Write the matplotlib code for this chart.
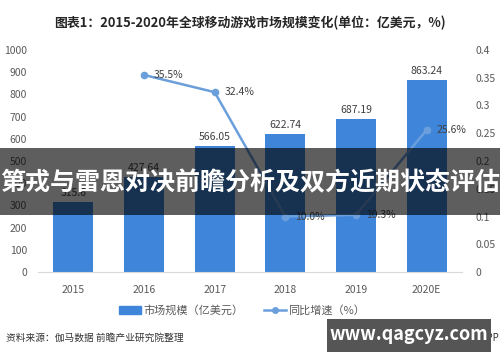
import matplotlib
matplotlib.use("Agg")
import matplotlib.pyplot as plt
from matplotlib.patches import Rectangle
from matplotlib.lines import Line2D
from matplotlib.ticker import FuncFormatter

plt.rcParams['font.family'] = ['Noto Sans CJK SC', 'DejaVu Sans']

years = ["2015", "2016", "2017", "2018", "2019", "2020E"]
market = [315.6, 427.64, 566.05, 622.74, 687.19, 863.24]
growth_years = ["2016", "2017", "2018", "2019", "2020E"]
growth = [0.355, 0.324, 0.100, 0.103, 0.256]

title = "图表1：2015-2020年全球移动游戏市场规模变化(单位：亿美元，%)"
banner = "第戎与雷恩对决前瞻分析及双方近期状态评估"
source = "资料来源：伽马数据 前瞻产业研究院整理"

BAR = "#3f86da"
LINE = "#6a9fdc"
GREY = "#595959"

fig = plt.figure(figsize=(5, 3.62), dpi=100)
ax = fig.add_axes([0.076, 0.2486, 0.848, 0.6133])
x = list(range(len(years)))
ax.bar(x, market, width=0.57, color=BAR, zorder=2)
for xi, v in zip(x, market):
    ax.text(xi, v + 18, f"{v:.2f}" if v != 315.6 else "315.6", ha="center", va="bottom",
            fontsize=7.5, color="#404040")
ax.set_xlim(-0.5, len(years) - 0.5)
ax.set_ylim(0, 1000)
ax.set_yticks(range(0, 1001, 100))
ax.set_xticks(x)
ax.set_xticklabels(years)
ax.tick_params(length=0, labelsize=7.5, colors=GREY)
ax.tick_params(axis="y", pad=8)
ax.tick_params(axis="x", pad=9)
for s in ["top", "right", "left"]:
    ax.spines[s].set_visible(False)
ax.spines["bottom"].set_color("#d9d9d9")

ax2 = ax.twinx()
gx = [years.index(g) for g in growth_years]
ax2.plot(gx, growth, color=LINE, lw=1.8, marker="o", ms=4.5, zorder=3)
for xi, g in zip(gx, growth):
    ax2.annotate(f"{g*100:.1f}%", (xi, g), xytext=(7, 0), textcoords="offset points",
                 ha="left", va="center", fontsize=7.5, color="#404040")
ax2.set_ylim(0, 0.4)
ax2.set_yticks([0, 0.05, 0.1, 0.15, 0.2, 0.25, 0.3, 0.35, 0.4])
ax2.yaxis.set_major_formatter(FuncFormatter(lambda v, p: f"{v:g}"))
ax2.tick_params(length=0, labelsize=7.5, colors=GREY, pad=10)
for s in ax2.spines.values():
    s.set_visible(False)

fig.text(0.5, 1 - 23 / 362, title, ha="center", va="center", fontsize=9.3,
         fontweight="bold", color="#262626")

handles = [Rectangle((0, 0), 1, 1, color=BAR),
           Line2D([0], [0], color=LINE, lw=1.8, marker="o", ms=4)]
fig.legend(handles, ["市场规模（亿美元）", "同比增速（%）"], loc="center",
           bbox_to_anchor=(0.484, 0.143), ncol=2, frameon=False, fontsize=8,
           handlelength=2.0, handletextpad=0.2, columnspacing=1.8, labelcolor=GREY)

fig.text(0.012, 0.068, source, ha="left", va="center", fontsize=7, color="#333333")
fig.text(0.998, 0.068, "@前瞻经济学人APP", ha="right", va="center", fontsize=7,
         color="#333333")

# overlay banner
fig.patches.append(Rectangle((0, 1 - 215 / 362), 1, 67 / 362, transform=fig.transFigure,
                             facecolor="black", linewidth=0, alpha=0.63, zorder=10))
fig.text(0.5, 1 - 183 / 362, banner, ha="center", va="center", fontsize=18,
         fontweight="bold", color="white", zorder=11)

# watermark
fig.patches.append(Rectangle((327 / 500, 1 - 352 / 362), 164 / 500, 33 / 362,
                             transform=fig.transFigure, facecolor="#555555",
                             linewidth=0, zorder=10))
fig.text(409 / 500, 1 - 335 / 362, "www.qagcyz.com", ha="center", va="center",
         fontsize=13, fontweight="bold", color="white", zorder=11)

fig.savefig("out.png", dpi=100)
